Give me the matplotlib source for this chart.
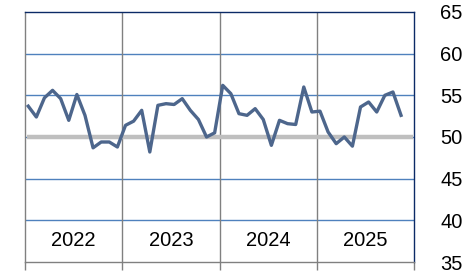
import numpy as np
import matplotlib
matplotlib.use("Agg")
import matplotlib.pyplot as plt

# data bulanan (Jan 2022 - Nov 2025)
values = [53.7, 52.4, 54.7, 55.6, 54.6, 52.0, 55.1, 52.6, 48.7, 49.4, 49.4, 48.8,
          51.4, 51.9, 53.2, 48.2, 53.8, 54.0, 53.9, 54.6, 53.2, 52.1, 50.0, 50.5,
          56.2, 55.2, 52.8, 52.6, 53.4, 52.1, 49.0, 52.0, 51.6, 51.5, 56.0, 53.0,
          53.1, 50.6, 49.2, 50.0, 48.9, 53.6, 54.2, 53.0, 55.0, 55.4, 52.6]
years = ["2022", "2023", "2024", "2025"]
yticks = [35, 40, 45, 50, 55, 60, 65]
threshold = 50

plt.rcParams['font.family'] = ['Liberation Sans', 'DejaVu Sans']

fig = plt.figure(figsize=(4.7, 2.74), dpi=100)
ax = fig.add_axes([25/470, 1-262/274, (414-25)/470, 250/274])

x = np.arange(len(values)) + 0.4
nmonths = 12 * len(years)

# garis grid horizontal biru
for v in yticks[1:-1]:
    ax.axhline(v, color='#4f81bd', lw=1.0, zorder=1)
# garis grid vertikal per tahun
for k in range(1, len(years)):
    ax.axvline(12 * k, color='#808080', lw=1.0, zorder=1)

# garis 50 abu-abu tebal
ax.plot([0.3, nmonths - 0.15], [threshold, threshold], color='#bfbfbf', lw=3.2,
        solid_capstyle='butt', zorder=2)

ax.plot(x, values, color='#4d668c', lw=2.4, zorder=3)

# label tahun di dalam plot
for k, yr in enumerate(years):
    ax.text(12 * k + 6, 37.6, yr, ha='center', va='center', fontsize=14.5)

ax.set_xlim(0, nmonths)
ax.set_ylim(35, 65)
ax.set_xticks([12 * k for k in range(len(years) + 1)])
ax.set_xticklabels([])
ax.tick_params(axis='x', length=6, color='#808080', width=1)
ax.yaxis.tick_right()
ax.set_yticks(yticks)
ax.tick_params(axis='y', length=0, pad=19, labelsize=14.5)

ax.spines['left'].set_color('#808080')
ax.spines['bottom'].set_color('#808080')
ax.spines['top'].set_color('#0b2a66')
ax.spines['right'].set_color('#0b2a66')
for s in ax.spines.values():
    s.set_linewidth(1.0)

fig.savefig("out.png", dpi=100)
